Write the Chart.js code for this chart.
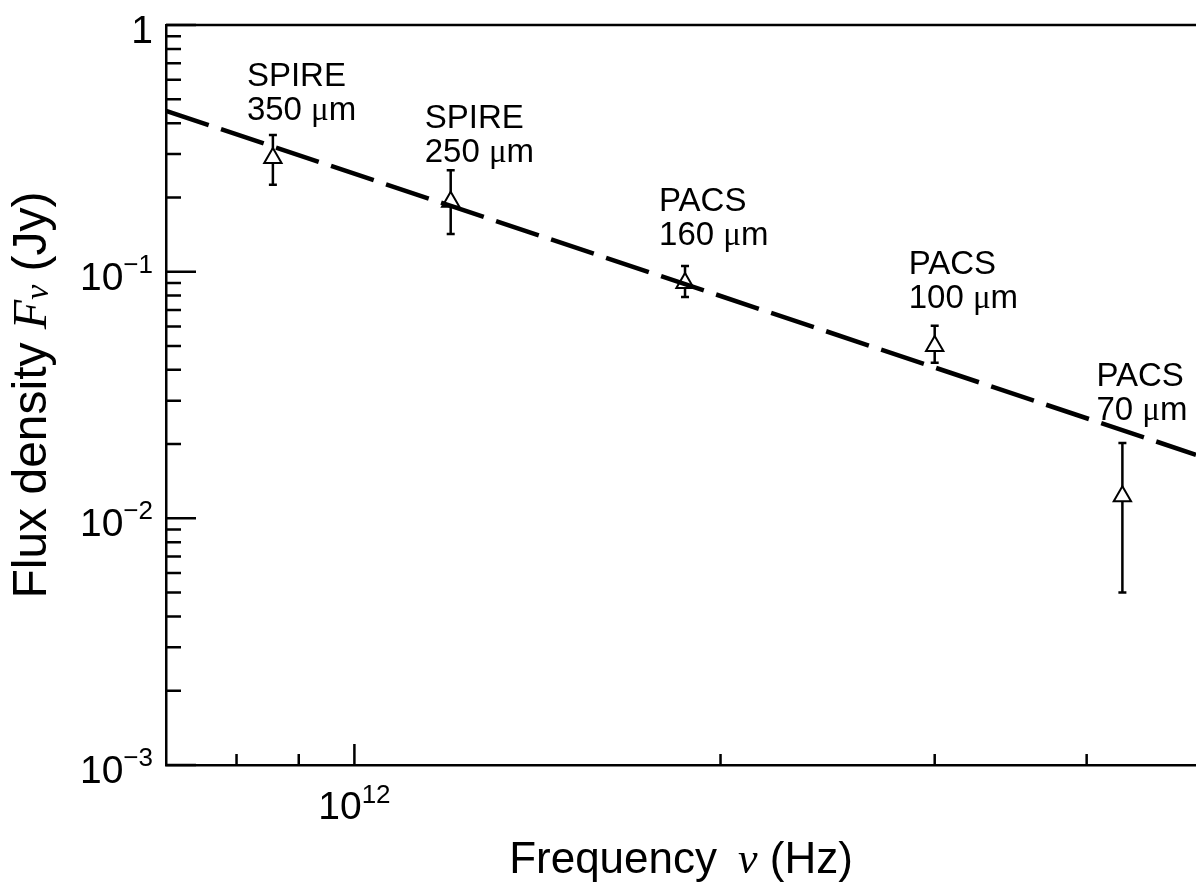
<!DOCTYPE html>
<html>
<head>
<meta charset="utf-8">
<script src="https://cdn.jsdelivr.net/npm/chart.js@4.4.1/dist/chart.umd.min.js"></script>
<style>
body{margin:0;background:#fff}
#wrap{width:1196px;height:884px;position:relative}
</style>
</head>
<body>
<div id="wrap"><canvas id="myChart"></canvas></div>
<script>
const bands = ["SPIRE", "SPIRE", "PACS", "PACS", "PACS"]
const wavelengths = ["350", "250", "160", "100", "70"]
const frequencies = [8.57e11, 1.20e12, 1.87e12, 3.00e12, 4.28e12]
const fluxes = [0.289, 0.192, 0.090, 0.050, 0.0123]
const fluxLow = [0.225, 0.142, 0.079, 0.0427, 0.0050]
const fluxHigh = [0.358, 0.258, 0.1055, 0.0603, 0.0202]
const fitFrequencies = [7.0e11, 4.92e12]
const fitFluxes = [0.449, 0.0181]
const yTickValues = [1, 0.1, 0.01, 0.001]
const yTickBase = ["1", "10", "10", "10"]
const yTickExp = ["", "\u22121", "\u22122", "\u22123"]
const xTickValues = [1e12]
const xTickBase = ["10"]
const xTickExp = ["12"]
const xMinorTicks = [8e11, 9e11, 2e12, 3e12, 4e12]
const yMinorMantissas = [2, 3, 4, 5, 6, 7, 8, 9]
// pixels between error bar top and the label's lower line
const labelLift = [15, 8, 21, 18, 23]

const SANS = "Liberation Sans"
const SERIF = "Liberation Serif"

function drawRuns(ctx, runs, x, y, align){
    let total = 0
    runs.forEach(r=>{
        ctx.font = r.font
        r.w = ctx.measureText(r.text).width
        total += r.w
    })
    let cx = x
    if (align === "right") cx = x - total
    if (align === "center") cx = x - total/2
    runs.forEach(r=>{
        ctx.font = r.font
        ctx.fillText(r.text, cx, y + (r.dy || 0))
        cx += r.w
    })
}

const axisDecor = {
    id: "axisDecor",
    beforeDatasetsDraw(chart){
        const {ctx, scales:{x, y}} = chart
        ctx.save()
        ctx.strokeStyle = "#000"
        ctx.lineWidth = 2.5
        frequencies.forEach((f, i)=>{
            const px = x.getPixelForValue(f)
            const top = y.getPixelForValue(fluxHigh[i])
            const bot = y.getPixelForValue(fluxLow[i])
            ctx.beginPath()
            ctx.moveTo(px, top); ctx.lineTo(px, bot)
            ctx.moveTo(px-4, top); ctx.lineTo(px+4, top)
            ctx.moveTo(px-4, bot); ctx.lineTo(px+4, bot)
            ctx.stroke()
        })
        ctx.restore()
    },
    afterDraw(chart){
        const {ctx, chartArea:{left, right, top, bottom}, scales:{x, y}} = chart
        ctx.save()
        ctx.strokeStyle = "#000"
        ctx.fillStyle = "#000"
        ctx.lineWidth = 2.5
        // top frame
        ctx.beginPath()
        ctx.moveTo(left, top); ctx.lineTo(right, top)
        ctx.stroke()
        // y ticks
        ctx.beginPath()
        yTickValues.forEach(v=>{
            const py = y.getPixelForValue(v)
            ctx.moveTo(left, py); ctx.lineTo(left+30, py)
        })
        yTickValues.slice(1).forEach(d=>{
            yMinorMantissas.forEach(m=>{
                const py = y.getPixelForValue(m*d)
                ctx.moveTo(left, py); ctx.lineTo(left+15, py)
            })
        })
        // x ticks
        xTickValues.forEach(v=>{
            const px = x.getPixelForValue(v)
            ctx.moveTo(px, bottom); ctx.lineTo(px, bottom-21)
        })
        xMinorTicks.forEach(v=>{
            const px = x.getPixelForValue(v)
            ctx.moveTo(px, bottom); ctx.lineTo(px, bottom-11)
        })
        ctx.stroke()

        ctx.textAlign = "left"
        ctx.textBaseline = "alphabetic"
        yTickValues.forEach((v, i)=>{
            const py = y.getPixelForValue(v)
            drawRuns(ctx, [
                {text: yTickBase[i], font: "39px " + SANS, dy: 18},
                {text: yTickExp[i], font: "26px " + SANS, dy: 1}
            ], 153, py, "right")
        })
        xTickValues.forEach((v, i)=>{
            const px = x.getPixelForValue(v)
            drawRuns(ctx, [
                {text: xTickBase[i], font: "39px " + SANS, dy: 0},
                {text: xTickExp[i], font: "26px " + SANS, dy: -16}
            ], px, 819, "center")
        })

        // axis titles
        drawRuns(ctx, [
            {text: "Frequency \u2009", font: "44px " + SANS},
            {text: "\u03bd", font: "italic 44px " + SERIF},
            {text: " (Hz)", font: "44px " + SANS}
        ], (left+right)/2, 873, "center")
        ctx.save()
        ctx.translate(46, (top+bottom)/2)
        ctx.rotate(-Math.PI/2)
        drawRuns(ctx, [
            {text: "Flux density ", font: "48px " + SANS},
            {text: "F", font: "italic 48px " + SERIF},
            {text: "\u03bd", font: "italic 34px " + SERIF, dy: 2},
            {text: " (Jy)", font: "48px " + SANS}
        ], 0, 0, "center")
        ctx.restore()

        // instrument labels
        frequencies.forEach((f, i)=>{
            const px = x.getPixelForValue(f) - 26
            const base = y.getPixelForValue(fluxHigh[i]) - labelLift[i]
            ctx.font = "33px " + SANS
            ctx.fillText(bands[i], px, base - 34)
            drawRuns(ctx, [
                {text: wavelengths[i] + " ", font: "33px " + SANS},
                {text: "\u03bc", font: "33px " + SERIF},
                {text: "m", font: "33px " + SANS}
            ], px, base, "left")
        })
        ctx.restore()
    }
}

const ctx = document.getElementById("myChart")
const newChart = new Chart(ctx, {
    type: "scatter",
    data: {
        datasets: [{
            label: "fit",
            type: "line",
            data: fitFrequencies.map((f, i)=>({x: f, y: fitFluxes[i]})),
            borderColor: "#000",
            borderWidth: 4.5,
            borderDash: [45, 13],
            borderCapStyle: "butt",
            pointRadius: 0,
            fill: false,
            order: 0
        }, {
            label: "Herschel",
            data: frequencies.map((f, i)=>({x: f, y: fluxes[i]})),
            pointStyle: "triangle",
            pointRadius: 10,
            backgroundColor: "#fff",
            borderColor: "#000",
            borderWidth: 2,
            order: 1
        }]
    },
    options: {
        responsive: true,
        maintainAspectRatio: false,
        animation: false,
        layout: {autoPadding: false, padding: {left: 166, top: 25, right: 0, bottom: 119}},
        plugins: {legend: {display: false}, tooltip: {enabled: false}},
        scales: {
            x: {
                type: "logarithmic", min: 7.0e11, max: 4.92e12,
                ticks: {display: false},
                grid: {display: false, drawTicks: false},
                border: {display: true, color: "#000", width: 2.5}
            },
            y: {
                type: "logarithmic", min: 1e-3, max: 1,
                ticks: {display: false},
                grid: {display: false, drawTicks: false},
                border: {display: true, color: "#000", width: 2.5}
            }
        }
    },
    plugins: [axisDecor]
})
</script>
</body>
</html>
